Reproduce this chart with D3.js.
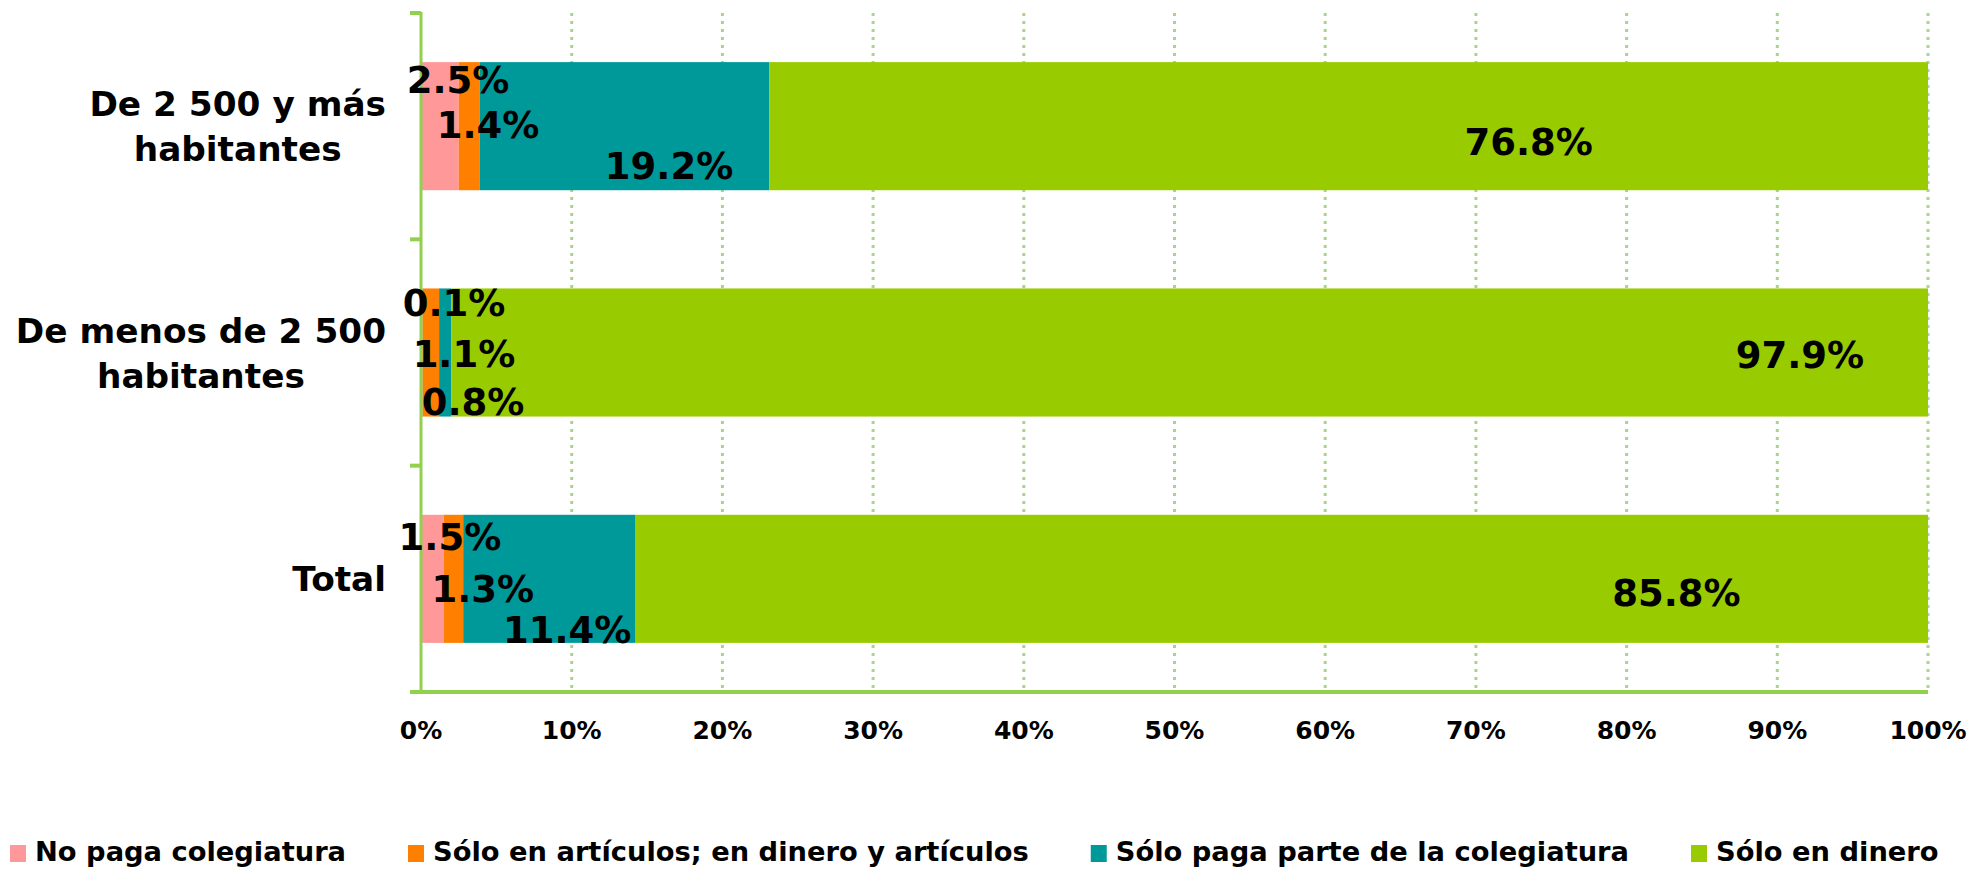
<!DOCTYPE html>
<meta charset="utf-8">
<style>
body { margin: 0; background: #fff; }
svg text { font-family: 'DejaVu Sans', Verdana, sans-serif; font-weight: 700; fill: #000; }
</style>
<body>
<svg width="1985" height="869"></svg>
<script src="https://cdn.jsdelivr.net/npm/d3@7"></script>
<script>

// data
var categories = ["De 2 500 y más habitantes", "De menos de 2 500 habitantes", "Total"];
var categoryLines = [["De 2 500 y más", "habitantes"], ["De menos de 2 500", "habitantes"], ["Total"]];
var series = ["No paga colegiatura", "Sólo en artículos; en dinero y artículos",
              "Sólo paga parte de la colegiatura", "Sólo en dinero"];
var noPaga    = [2.5, 0.1, 1.5];
var articulos = [1.4, 1.1, 1.3];
var parte     = [19.2, 0.8, 11.4];
var dinero    = [76.8, 97.9, 85.8];
var xTicks = [0, 10, 20, 30, 40, 50, 60, 70, 80, 90, 100];

// label placement (as in the original: hand-nudged), x in %, y as fraction of bar height
var labelX = [[2.46, 4.45, 16.46, 73.5], [2.19, 2.85, 3.45, 91.5], [1.92, 4.1, 9.7, 83.3]];
var labelY = [[0.14, 0.49, 0.81, 0.62], [0.11, 0.51, 0.89, 0.52], [0.17, 0.58, 0.9, 0.61]];

var colors = ["#ff9999", "#ff8000", "#009999", "#99cc00"];
var axisColor = "#92d050";

var svg = d3.select("svg");

var x = d3.scaleLinear().domain([0, 100]).range([421, 1928]);
var y = d3.scaleBand().domain(categories).range([13, 692])
          .paddingInner(0.434).paddingOuter(0.217);

// normalise to 100% stacked
var rows = categories.map(function(c, i) {
  var vals = [noPaga[i], articulos[i], parte[i], dinero[i]];
  var total = d3.sum(vals);
  var r = {cat: c};
  series.forEach(function(s, j) { r[s] = vals[j] / total * 100; r["raw" + j] = vals[j]; });
  return r;
});
var stack = d3.stack().keys(series)(rows);

// gridlines
svg.append("g").selectAll("line")
  .data(xTicks.slice(1))
  .enter().append("line")
    .attr("x1", function(d) { return x(d); })
    .attr("x2", function(d) { return x(d); })
    .attr("y1", 13).attr("y2", 692)
    .attr("stroke", "#a9d48c")
    .attr("stroke-width", 3)
    .attr("stroke-dasharray", "3,5");

// bars
svg.append("g").selectAll("g")
  .data(stack)
  .enter().append("g")
    .attr("fill", function(d, i) { return colors[i]; })
  .selectAll("rect")
  .data(function(d) { return d; })
  .enter().append("rect")
    .attr("x", function(d) { return x(d[0]); })
    .attr("width", function(d) { return x(d[1]) - x(d[0]); })
    .attr("y", function(d) { return y(d.data.cat); })
    .attr("height", y.bandwidth());

// axes
svg.append("line")
  .attr("x1", x(0)).attr("x2", x(0)).attr("y1", 12).attr("y2", 694)
  .attr("stroke", axisColor).attr("stroke-width", 3);
var yTicks = [13].concat(categories.map(function(c) { return y(c) + y.bandwidth() + y.step() * y.paddingInner() / 2; }));
yTicks[3] = 692;
svg.append("g").selectAll("line")
  .data(yTicks)
  .enter().append("line")
    .attr("x1", 410).attr("x2", x(0))
    .attr("y1", function(d) { return d; }).attr("y2", function(d) { return d; })
    .attr("stroke", axisColor).attr("stroke-width", 4);
svg.append("line")
  .attr("x1", 410).attr("x2", x(100)).attr("y1", 692).attr("y2", 692)
  .attr("stroke", axisColor).attr("stroke-width", 4);

svg.append("g").selectAll("text")
  .data(xTicks)
  .enter().append("text")
    .attr("x", function(d) { return x(d); })
    .attr("y", 739)
    .attr("text-anchor", "middle")
    .style("font-size", "25px")
    .text(function(d) { return d + "%"; });

// category labels
categoryLines.forEach(function(lines, i) {
  var yc = y(categories[i]) + y.bandwidth() / 2;
  var g = svg.append("g");
  var t = g.append("text").attr("text-anchor", "middle").style("font-size", "34.3px");
  var first = yc - (lines.length - 1) * 22.5 + 12.5;
  lines.forEach(function(l, k) {
    t.append("tspan").attr("x", 0).attr("y", first + k * 45).text(l);
  });
  var w = t.node().getBBox().width;
  t.attr("transform", "translate(" + (386 - w / 2) + ",0)");
});

// data labels
stack.forEach(function(s, j) {
  s.forEach(function(d, i) {
    var top = y(d.data.cat);
    svg.append("text")
      .attr("x", x(labelX[i][j]))
      .attr("y", top + labelY[i][j] * y.bandwidth() + 13)
      .attr("text-anchor", "middle")
      .style("font-size", "37px")
      .text(d3.format(".1f")(d.data["raw" + j]) + "%");
  });
});

// legend
var lx = 10;
series.forEach(function(s, i) {
  svg.append("rect")
    .attr("x", lx).attr("y", 845).attr("width", 16).attr("height", 17)
    .attr("fill", colors[i]);
  var t = svg.append("text")
    .attr("x", lx + 25).attr("y", 861)
    .style("font-size", "27.3px")
    .text(s);
  lx += 25 + t.node().getComputedTextLength() + 62;
});

</script>
</body>
